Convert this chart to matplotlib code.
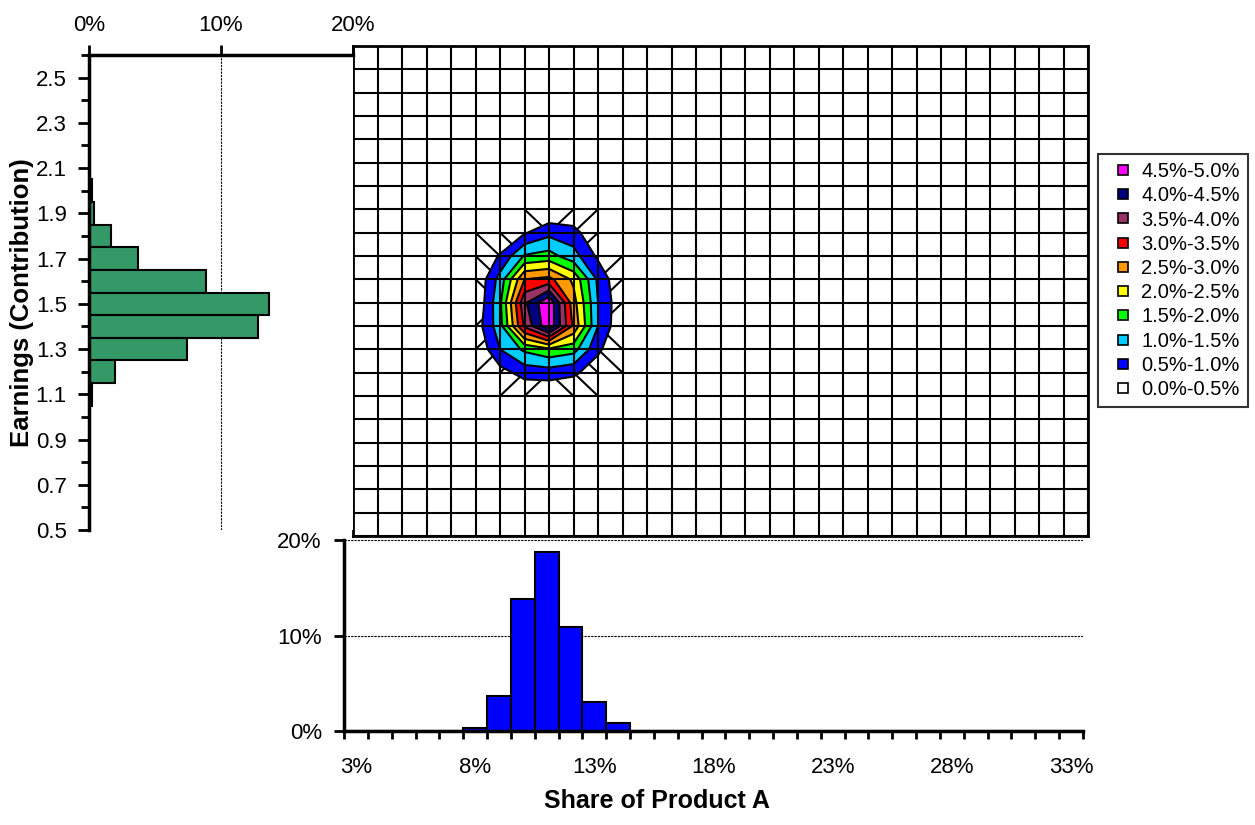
import numpy as np
import matplotlib.pyplot as plt
from matplotlib.lines import Line2D

plt.rcParams['font.family'] = ['Liberation Sans', 'DejaVu Sans']

# contour grid: share of product A (%) and earnings
share_grid = list(range(3, 34))
earn_grid = [round(0.5 + 0.1 * i, 1) for i in range(22)]

# joint distribution (% of runs), only the non-empty block, rest is 0
block_shares = [7, 8, 9, 10, 11, 12, 13, 14, 15]
block_earn = [2.0, 1.9, 1.8, 1.7, 1.6, 1.5, 1.4, 1.3, 1.2, 1.1, 1.0]
joint_pct = [
    [0, 0,    0,    0,    0,    0,    0,    0,    0],
    [0, 0,    0,    0,    0,    0,    0,    0,    0],
    [0, 0,    0,    0.45, 0.85, 0.70, 0,    0,    0],
    [0, 0,    0.55, 1.55, 1.70, 1.20, 0.40, 0,    0],
    [0, 0,    1.20, 3.00, 3.15, 2.40, 0.90, 0,    0],
    [0, 0,    1.40, 3.90, 4.95, 2.70, 1.00, 0.10, 0],
    [0, 0.20, 1.30, 3.60, 4.90, 2.90, 1.00, 0.05, 0],
    [0, 0,    1.00, 1.60, 1.90, 1.70, 0.60, 0,    0],
    [0, 0,    0.30, 0.70, 0.75, 0.60, 0.20, 0,    0],
    [0, 0,    0,    0,    0,    0,    0,    0,    0],
    [0, 0,    0,    0,    0,    0,    0,    0,    0],
]

# marginal histogram of earnings
earn_bins = [2.0, 1.9, 1.8, 1.7, 1.6, 1.5, 1.4, 1.3, 1.2, 1.1]
earn_pct = [0.25, 0.35, 1.7, 3.7, 8.9, 13.6, 12.8, 7.4, 2.0, 0.2]

# marginal histogram of share
share_labels = [f"{s}%" for s in range(3, 34)]
share_pct = [0, 0, 0, 0, 0, 0.3, 3.7, 13.8, 18.7, 10.9, 3.0, 0.8, 0, 0, 0, 0,
             0, 0, 0, 0, 0, 0, 0, 0, 0, 0, 0, 0, 0, 0, 0]

band_levels = [0.5, 1.0, 1.5, 2.0, 2.5, 3.0, 3.5, 4.0, 4.5, 5.0]
band_colors = ['#0000FF', '#00CCFF', '#00FF00', '#FFFF00', '#FF9900',
               '#FF0000', '#993366', '#000080', '#FF00FF']
band_labels = ['0.0%-0.5%', '0.5%-1.0%', '1.0%-1.5%', '1.5%-2.0%', '2.0%-2.5%',
               '2.5%-3.0%', '3.0%-3.5%', '3.5%-4.0%', '4.0%-4.5%', '4.5%-5.0%']

Z = np.zeros((len(earn_grid), len(share_grid)))
for r, e in enumerate(block_earn):
    for c, s in enumerate(block_shares):
        Z[earn_grid.index(e), share_grid.index(s)] = joint_pct[r][c]

W, H = 1255, 825
fig = plt.figure(figsize=(W / 100, H / 100), dpi=100)

def rect(x0, y0, x1, y1):
    return [x0 / W, 1 - y1 / H, (x1 - x0) / W, (y1 - y0) / H]

# ---- contour chart
ax = fig.add_axes(rect(353, 46, 1088, 536))
ax.contourf(share_grid, earn_grid, Z, levels=band_levels, colors=band_colors, zorder=1)
ax.contour(share_grid, earn_grid, Z, levels=band_levels[:-1], colors='black',
           linewidths=1.5, zorder=2)

# excel-like triangle edges in the cells crossed by the outer band
for i in range(len(earn_grid) - 1):
    for k in range(len(share_grid) - 1):
        corners = [(i, k), (i, k + 1), (i + 1, k + 1), (i + 1, k)]
        vals = [Z[c] for c in corners]
        if max(vals) >= 0.5 and min(vals) < 0.5:
            m = int(np.argmax(vals))
            o = corners[(m + 2) % 4]
            if Z[o] < 0.5:
                a = corners[m]
                ax.plot([share_grid[o[1]], share_grid[a[1]]],
                        [earn_grid[o[0]], earn_grid[a[0]]],
                        color='black', lw=1.5, zorder=0.5)

ax.set_xlim(3, 33)
ax.set_ylim(0.5, 2.6)
ax.set_xticks(share_grid)
ax.set_yticks(earn_grid)
ax.tick_params(length=0, labelbottom=False, labelleft=False)
ax.grid(True, color='black', lw=1.5)
ax.set_axisbelow(False)
for sp in ax.spines.values():
    sp.set_linewidth(2)

# ---- earnings histogram (left)
axl = fig.add_axes(rect(89, 55, 353, 530))
axl.barh(earn_bins, earn_pct, height=0.1, color='#339966', edgecolor='black', lw=1.5)
axl.set_xlim(0, 20)
axl.set_ylim(0.5, 2.6)
axl.xaxis.tick_top()
axl.set_xticks([0, 10, 20])
axl.set_xticklabels(['0%', '10%', '20%'])
axl.set_yticks([0.5, 0.7, 0.9, 1.1, 1.3, 1.5, 1.7, 1.9, 2.1, 2.3, 2.5])
axl.set_yticklabels(['0.5', '0.7', '0.9', '1.1', '1.3', '1.5', '1.7', '1.9', '2.1', '2.3', '2.5'])
axl.set_yticks([0.6, 0.8, 1.0, 1.2, 1.4, 1.6, 1.8, 2.0, 2.2, 2.4, 2.6], minor=True)
axl.tick_params(axis='y', which='major', length=8, width=2, pad=8, labelsize=16)
axl.tick_params(axis='y', which='minor', length=6, width=2)
axl.tick_params(axis='x', length=7, width=2, pad=7, labelsize=16)
axl.axvline(10, color='black', lw=0.8, ls=(0, (2, 1)), zorder=0)
axl.spines['right'].set_visible(False)
axl.spines['bottom'].set_visible(False)
axl.spines['left'].set_linewidth(2.5)
axl.spines['top'].set_linewidth(2.5)

# ---- share histogram (bottom)
axb = fig.add_axes(rect(344, 540, 1083, 731))
idx = np.arange(len(share_labels))
axb.bar(idx, share_pct, width=1.0, color='#0000FF', edgecolor='black', lw=1.5, zorder=2)
axb.set_xlim(-0.5, len(share_labels) - 0.5)
axb.set_ylim(0, 20)
axb.set_xticks(np.arange(len(share_labels) + 1) - 0.5)
axb.set_xticklabels([])
axb.set_xticks(idx[::5], minor=True)
axb.set_xticklabels(share_labels[::5], minor=True)
axb.tick_params(axis='x', which='major', length=6, width=2)
axb.tick_params(axis='x', which='minor', length=0, pad=19, labelsize=16)
axb.set_yticks([0, 10, 20])
axb.set_yticklabels(['0%', '10%', '20%'])
axb.tick_params(axis='y', length=7, width=2, pad=9, labelsize=16)
for yv in [10, 20]:
    axb.axhline(yv, color='black', lw=0.8, ls=(0, (2, 1)), zorder=1)
axb.spines['right'].set_visible(False)
axb.spines['top'].set_visible(False)
axb.spines['left'].set_linewidth(2.5)
axb.spines['bottom'].set_linewidth(2.5)

# ---- titles
fig.text(657 / W, 1 - 801 / H, 'Share of Product A', ha='center', va='center',
         fontsize=18, fontweight='bold')
fig.text(22 / W, 1 - 303 / H, 'Earnings (Contribution)', ha='center', va='center',
         rotation=90, fontsize=18.5, fontweight='bold')

# ---- legend
fills = ['#FFFFFF'] + band_colors
handles = [Line2D([], [], ls='None', marker='s', markersize=7.5, markerfacecolor=fc,
                  markeredgecolor='black', markeredgewidth=1.2, label=lb)
           for fc, lb in zip(fills, band_labels)][::-1]
leg = fig.legend(handles=handles, loc='upper left', bbox_to_anchor=(1098 / W, 1 - 154 / H),
                 fontsize=14.5, frameon=True, fancybox=False, borderpad=0.4,
                 handlelength=1.7, handletextpad=0.05,
                 labelspacing=0.26, borderaxespad=0)
leg.get_frame().set_edgecolor('black')
leg.get_frame().set_linewidth(1.5)

fig.savefig('out.png', dpi=100)
